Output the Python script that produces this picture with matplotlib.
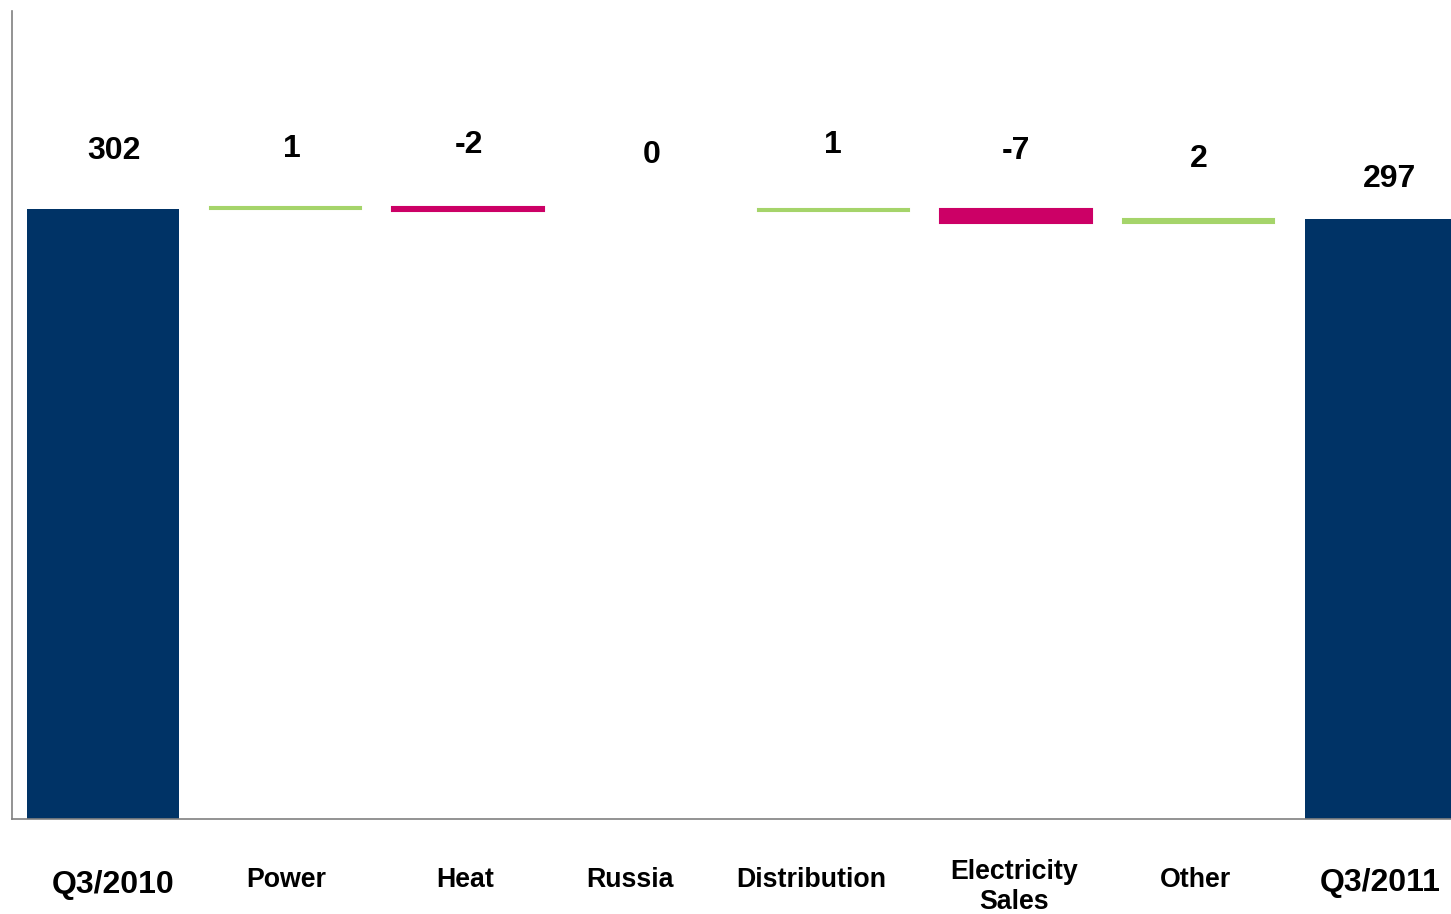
import numpy as np
import matplotlib
matplotlib.use('Agg')
import matplotlib.pyplot as plt

plt.rcParams['font.family'] = ['Liberation Sans', 'DejaVu Sans']

# data
categories = ['Q3/2010', 'Power', 'Heat', 'Russia', 'Distribution',
              'Electricity\nSales', 'Other', 'Q3/2011']
start_value = 302
deltas = [1, -2, 0, 1, -7, 2]
end_value = 297

navy = '#003366'
green = '#a5d46a'
magenta = '#cc0066'

fig = plt.figure(figsize=(14.51, 9.14), dpi=100)
ax = fig.add_axes([0.0083, 0.104, 0.9917, 0.884])

x = np.arange(len(categories))
w = 0.83

# totals
ax.bar([x[0], x[-1]], [start_value, end_value], width=w, color=navy)

# steps
level = start_value
tops = [start_value]
for i, d in enumerate(deltas):
    if d != 0:
        col = green if d > 0 else magenta
        ax.bar(x[i + 1], abs(d), bottom=min(level, level + d), width=w,
               color=col, edgecolor=col, linewidth=1.5)
    level += d
    tops.append(max(level, level - d))
tops.append(end_value)

px = 0.72  # points per pixel

# value labels
labels = [str(start_value)] + [str(d) for d in deltas] + [str(end_value)]
val_dx = [11, 6, 1, 1, -1, 0, 0, 8]
val_dy = [58, 58, 62, 56, 64, 58, 60, 40]
for xi, top, lab, dx, dy in zip(x, tops, labels, val_dx, val_dy):
    ax.annotate(lab, (xi, top), xytext=(dx * px, dy * px), textcoords='offset points',
                ha='center', va='center', fontsize=23, fontweight='bold')

# category labels
cat_dx = [10, 1, -3, -21, -22, -2, -3, -1]
cat_dy = [66, 61, 61, 61, 61, 68, 61, 64]
for i, (xi, lab, dx, dy) in enumerate(zip(x, categories, cat_dx, cat_dy)):
    big = i in (0, len(categories) - 1)
    ax.annotate(lab, (xi, 0), xytext=(dx * px, -dy * px), textcoords='offset points',
                ha='center', va='center', fontsize=23 if big else 19.3,
                fontweight='bold', linespacing=1.2, annotation_clip=False)

ax.set_xlim(-0.498, 7.382)
ax.set_ylim(0, 400)
ax.set_xticks([])
ax.set_yticks([])

for s in ['top', 'right']:
    ax.spines[s].set_visible(False)
for s in ['left', 'bottom']:
    ax.spines[s].set_color('#808080')
    ax.spines[s].set_linewidth(1.2)

fig.savefig('out.png', dpi=100)
